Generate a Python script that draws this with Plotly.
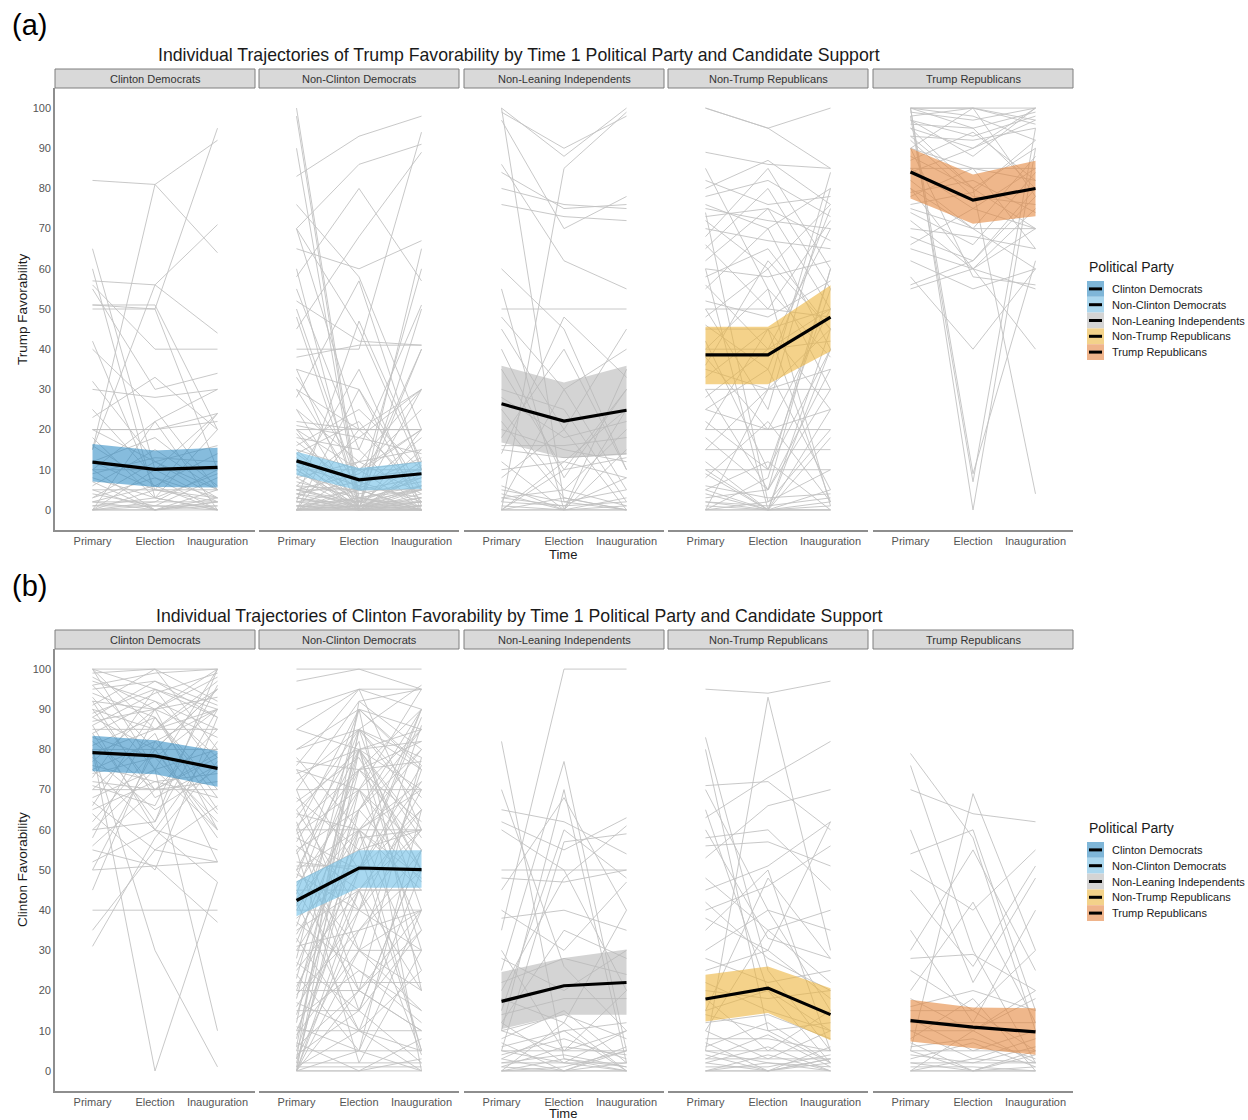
import plotly.graph_objects as go

# ---------------------------------------------------------------- data
times = ["Primary", "Election", "Inauguration"]
groups = ["Clinton Democrats", "Non-Clinton Democrats", "Non-Leaning Independents",
          "Non-Trump Republicans", "Trump Republicans"]
y_ticks = [0, 10, 20, 30, 40, 50, 60, 70, 80, 90, 100]

# group means and confidence bands (Primary, Election, Inauguration)
trump_mean = [[11.9, 10.1, 10.6], [12.2, 7.5, 9.0], [26.4, 22.1, 24.8],
              [38.6, 38.6, 48.0], [84.1, 77.1, 80.0]]
trump_lo = [[7.1, 5.7, 5.6], [8.7, 4.8, 5.2], [16.8, 12.9, 13.7],
            [31.3, 31.3, 39.5], [77.5, 71.2, 73.1]]
trump_hi = [[16.4, 14.8, 15.5], [14.5, 10.4, 12.0], [35.9, 31.7, 35.9],
            [45.6, 45.6, 55.9], [90.0, 83.5, 86.9]]

clinton_mean = [[79.2, 78.4, 75.3], [42.4, 50.5, 50.1], [17.3, 21.2, 22.0],
                [17.9, 20.6, 14.0], [12.5, 10.9, 9.7]]
clinton_lo = [[74.6, 73.8, 70.7], [38.5, 45.6, 45.6], [10.4, 14.0, 14.0],
              [12.3, 14.4, 7.6], [7.3, 5.7, 4.0]]
clinton_hi = [[83.4, 82.3, 79.6], [47.2, 54.9, 54.9], [24.6, 28.1, 30.2],
              [23.9, 26.0, 20.6], [17.7, 15.8, 15.6]]

# individual respondents: Trump favorability
trump_ind_cd = [[82, 81, 64], [15, 81, 92], [51, 50, 95], [65, 10, 2], [60, 3, 0], [51, 51, 20],
                [50, 50, 10], [56, 40, 40], [55, 30, 34], [42, 5, 2], [40, 25, 5], [57, 56, 44],
                [32, 12, 5], [23, 33, 20], [20, 20, 22], [20, 20, 24], [30, 28, 30], [20, 12, 3],
                [15, 56, 71], [10, 22, 30], [12, 5, 24], [10, 10, 10], [8, 3, 20], [6, 15, 5],
                [5, 5, 5], [5, 0, 2], [3, 8, 3], [2, 2, 2], [2, 0, 5], [1, 1, 1], [0, 0, 0],
                [0, 5, 3], [0, 2, 10], [0, 0, 2], [1, 3, 0], [4, 1, 8], [10, 0, 3], [12, 18, 6],
                [16, 6, 14], [25, 8, 0], [3, 12, 16], [0, 10, 24], [7, 0, 1], [18, 3, 9],
                [2, 6, 0], [0, 22, 0], [9, 13, 12], [0, 1, 0]]
trump_ind_ncd = [[100, 3, 0], [98, 1, 5], [90, 0, 2], [83, 93, 98], [70, 86, 91], [76, 58, 20],
                 [70, 20, 5], [70, 45, 10], [65, 60, 67], [60, 0, 65], [58, 80, 57], [55, 15, 51],
                 [52, 42, 41], [50, 5, 0], [48, 2, 30], [45, 68, 89], [40, 40, 94], [38, 41, 41],
                 [35, 0, 20], [35, 30, 5], [33, 10, 0], [30, 20, 20], [30, 5, 40], [28, 57, 10],
                 [25, 12, 15], [25, 0, 0], [22, 20, 20], [21, 18, 30], [20, 20, 20], [20, 0, 5],
                 [20, 10, 12], [19, 2, 8], [18, 15, 0], [17, 5, 18], [16, 25, 10], [15, 1, 2],
                 [15, 10, 25], [14, 3, 6], [13, 0, 11], [12, 8, 10], [12, 2, 40], [11, 6, 3],
                 [10, 10, 10], [10, 1, 15], [10, 0, 0], [9, 4, 7], [8, 12, 4], [8, 0, 9],
                 [7, 3, 5], [6, 0, 1], [6, 18, 14], [5, 5, 5], [5, 1, 0], [5, 9, 20], [5, 2, 12],
                 [4, 0, 6], [4, 7, 2], [3, 1, 3], [3, 0, 0], [3, 12, 30], [2, 2, 2], [2, 0, 10],
                 [2, 5, 0], [1, 1, 1], [1, 0, 4], [1, 3, 0], [0, 0, 0], [0, 0, 1], [0, 1, 0],
                 [0, 2, 5], [0, 0, 2], [0, 5, 8], [0, 0, 3], [0, 10, 20], [0, 3, 1], [0, 1, 6],
                 [1, 0, 0], [0, 20, 30], [0, 30, 0], [2, 47, 12], [6, 5, 60], [3, 0, 50],
                 [8, 35, 1], [11, 0, 0], [14, 22, 2], [0, 6, 13], [4, 2, 0]]
trump_ind_nli = [[100, 88, 100], [99, 90, 98], [100, 2, 0], [97, 70, 78], [86, 62, 55],
                 [84, 75, 76], [80, 76, 75], [76, 73, 72], [0, 85, 99], [60, 45, 10], [55, 0, 35],
                 [50, 50, 50], [48, 30, 5], [45, 20, 45], [40, 8, 30], [35, 10, 30], [30, 25, 2],
                 [28, 18, 22], [25, 5, 20], [22, 3, 0], [20, 15, 12], [18, 40, 10], [16, 16, 18],
                 [15, 13, 14], [12, 0, 25], [10, 12, 8], [8, 20, 0], [5, 2, 5], [4, 0, 3],
                 [3, 5, 1], [2, 1, 2], [1, 0, 0], [0, 0, 1], [0, 3, 0], [0, 10, 13], [0, 12, 25],
                 [6, 0, 15], [14, 48, 33], [2, 30, 40], [0, 0, 0], [3, 1, 8]]
trump_ind_ntr = [[100, 95, 100], [100, 95, 85], [89, 86, 85], [82, 76, 78], [80, 87, 76],
                 [78, 82, 73], [76, 70, 80], [75, 72, 70], [73, 75, 67], [72, 60, 76],
                 [70, 67, 65], [68, 85, 60], [66, 50, 72], [65, 80, 55], [62, 75, 50],
                 [60, 58, 62], [58, 65, 45], [56, 40, 70], [55, 70, 40], [52, 48, 57],
                 [50, 50, 48], [50, 25, 80], [48, 60, 30], [46, 35, 75], [45, 45, 50],
                 [42, 10, 55], [40, 55, 38], [40, 40, 42], [38, 20, 50], [36, 62, 45],
                 [35, 30, 30], [33, 45, 25], [30, 30, 35], [30, 5, 60], [28, 40, 50],
                 [25, 20, 25], [25, 35, 5], [22, 10, 40], [20, 20, 20], [20, 45, 2], [18, 5, 35],
                 [15, 15, 15], [15, 30, 45], [12, 0, 25], [10, 10, 10], [10, 0, 40], [8, 22, 2],
                 [6, 3, 4], [5, 0, 18], [5, 12, 0], [4, 0, 1], [3, 5, 30], [2, 0, 0], [2, 1, 3],
                 [1, 0, 2], [0, 0, 0], [0, 2, 10], [0, 0, 5], [0, 8, 60], [0, 30, 84],
                 [9, 0, 0], [85, 55, 1], [74, 2, 20], [60, 0, 45]]
trump_ind_tr = [[100, 100, 100], [100, 95, 99], [99, 97, 100], [98, 100, 96], [97, 93, 98],
                [96, 95, 80], [95, 90, 97], [93, 92, 95], [90, 85, 65], [88, 80, 90],
                [85, 75, 85], [85, 85, 85], [82, 70, 88], [80, 60, 75], [80, 70, 60],
                [78, 85, 82], [76, 79, 92], [75, 70, 70], [72, 60, 55], [70, 68, 65],
                [68, 62, 80], [66, 75, 70], [62, 55, 60], [58, 40, 60], [56, 62, 78],
                [65, 60, 40], [100, 9, 62], [98, 7, 95], [100, 0, 90], [95, 80, 4],
                [90, 58, 56], [55, 60, 70], [100, 100, 97], [93, 80, 70], [90, 100, 78],
                [97, 88, 100], [84, 90, 100], [92, 78, 76], [87, 94, 82], [79, 82, 74],
                [74, 66, 84], [100, 98, 92]]

# individual respondents: Clinton favorability
clinton_ind_cd = [[100, 100, 100], [100, 95, 90], [100, 85, 97], [99, 100, 92], [98, 90, 100],
                  [97, 92, 85], [96, 80, 95], [95, 97, 88], [94, 88, 70], [93, 75, 100],
                  [92, 90, 93], [91, 100, 80], [90, 85, 90], [90, 70, 85], [89, 95, 75],
                  [88, 80, 60], [87, 90, 98], [86, 60, 82], [85, 85, 85], [84, 92, 78],
                  [83, 78, 90], [82, 70, 72], [81, 88, 65], [80, 80, 80], [80, 0, 47],
                  [80, 30, 1], [79, 85, 95], [78, 65, 75], [77, 90, 83], [76, 72, 68],
                  [75, 82, 90], [75, 60, 55], [74, 78, 62], [73, 95, 88], [72, 70, 78],
                  [71, 66, 96], [70, 70, 70], [70, 84, 52], [68, 75, 80], [67, 55, 66],
                  [66, 90, 60], [65, 72, 74], [64, 50, 88], [62, 80, 58], [60, 62, 90],
                  [60, 75, 10], [58, 88, 68], [56, 70, 79], [55, 51, 52], [52, 60, 47],
                  [50, 51, 37], [50, 80, 95], [40, 40, 40], [35, 55, 52], [31, 58, 77],
                  [45, 82, 64], [100, 75, 60], [96, 99, 100], [88, 97, 91], [84, 62, 100],
                  [92, 68, 76], [86, 94, 99]]
clinton_ind_ncd = [[100, 100, 100], [97, 100, 95], [90, 95, 95], [85, 95, 90], [85, 80, 70],
                   [80, 90, 85], [80, 85, 75], [78, 60, 80], [77, 75, 90], [76, 95, 60],
                   [75, 70, 85], [75, 50, 76], [74, 80, 30], [72, 85, 65], [70, 30, 75],
                   [70, 92, 80], [70, 70, 70], [68, 55, 90], [67, 78, 50], [65, 80, 85],
                   [65, 40, 60], [64, 60, 70], [63, 85, 40], [62, 20, 10], [61, 75, 77],
                   [60, 60, 60], [60, 90, 20], [60, 15, 55], [59, 70, 95], [58, 50, 65],
                   [57, 82, 0], [56, 45, 45], [55, 65, 80], [55, 2, 30], [54, 75, 55],
                   [52, 50, 50], [51, 51, 50], [50, 80, 82], [50, 30, 40], [50, 60, 5],
                   [49, 40, 70], [48, 90, 75], [47, 55, 60], [46, 70, 35], [45, 45, 45],
                   [45, 20, 78], [44, 85, 68], [43, 60, 25], [42, 10, 50], [41, 75, 62],
                   [40, 40, 40], [40, 65, 85], [38, 50, 90], [37, 25, 15], [36, 80, 50],
                   [35, 45, 60], [34, 60, 72], [33, 10, 0], [32, 70, 55], [31, 35, 40],
                   [30, 30, 30], [30, 55, 5], [28, 90, 76], [27, 15, 35], [26, 65, 47],
                   [25, 45, 20], [24, 5, 65], [23, 80, 58], [22, 22, 22], [21, 50, 88],
                   [20, 20, 10], [20, 60, 45], [19, 35, 50], [18, 75, 82], [17, 10, 5],
                   [16, 40, 30], [15, 15, 55], [14, 58, 60], [13, 25, 12], [12, 85, 78],
                   [11, 5, 40], [10, 10, 10], [10, 45, 65], [9, 30, 20], [8, 70, 50],
                   [7, 0, 8], [6, 20, 35], [5, 5, 5], [5, 50, 72], [4, 15, 2], [3, 35, 55],
                   [2, 2, 2], [2, 60, 48], [1, 10, 25], [1, 1, 1], [0, 0, 0], [0, 30, 15],
                   [0, 80, 60], [0, 45, 4], [0, 5, 0], [0, 20, 40], [0, 0, 3], [1, 65, 90],
                   [3, 92, 95], [0, 40, 86], [6, 85, 96]]
clinton_ind_nli = [[35, 100, 100], [82, 3, 0], [25, 77, 5], [10, 70, 2], [15, 60, 48],
                   [65, 62, 54], [62, 55, 63], [50, 50, 50], [48, 47, 50], [38, 40, 35],
                   [20, 48, 61], [5, 57, 59], [40, 30, 47], [30, 5, 20], [70, 26, 10],
                   [22, 28, 24], [18, 12, 40], [28, 20, 30], [14, 18, 18], [12, 2, 10],
                   [10, 14, 8], [10, 5, 10], [8, 15, 2], [7, 0, 5], [6, 10, 12], [5, 5, 5],
                   [5, 2, 0], [4, 8, 3], [3, 0, 6], [3, 10, 0], [2, 2, 2], [2, 4, 1], [1, 0, 0],
                   [1, 6, 4], [0, 0, 0], [0, 3, 1], [0, 1, 5], [0, 12, 0], [0, 0, 2],
                   [45, 68, 40], [60, 50, 20], [12, 35, 28]]
clinton_ind_ntr = [[95, 94, 97], [5, 93, 30], [83, 25, 5], [71, 72, 60], [63, 73, 82],
                   [53, 66, 70], [56, 57, 51], [45, 51, 62], [40, 46, 56], [65, 20, 10],
                   [70, 40, 15], [80, 10, 2], [60, 33, 28], [48, 35, 40], [42, 28, 20],
                   [35, 50, 5], [30, 40, 35], [28, 22, 25], [25, 30, 18], [22, 15, 10],
                   [20, 18, 20], [18, 5, 15], [15, 20, 2], [14, 10, 12], [12, 14, 8],
                   [10, 3, 10], [8, 8, 5], [7, 0, 3], [6, 12, 2], [5, 5, 5], [5, 2, 0],
                   [4, 0, 6], [3, 9, 1], [3, 3, 3], [2, 0, 2], [2, 6, 0], [1, 1, 4], [0, 0, 0],
                   [0, 2, 1], [0, 4, 0], [0, 0, 3], [58, 60, 45], [38, 30, 62], [15, 48, 28],
                   [10, 35, 22]]
clinton_ind_tr = [[79, 58, 10], [76, 30, 2], [5, 69, 30], [54, 60, 15], [60, 22, 48],
                  [70, 64, 62], [50, 40, 55], [45, 26, 51], [28, 29, 20], [25, 15, 30],
                  [20, 42, 12], [18, 10, 18], [16, 20, 15], [15, 15, 5], [13, 5, 10],
                  [12, 12, 12], [10, 3, 8], [10, 10, 2], [8, 18, 0], [7, 0, 5], [6, 8, 3],
                  [5, 5, 5], [5, 0, 0], [4, 2, 6], [3, 7, 1], [2, 2, 2], [2, 0, 4], [1, 1, 0],
                  [0, 0, 0], [0, 3, 2], [0, 0, 1], [0, 10, 20], [30, 55, 25], [35, 12, 40]]

trump_ind = [trump_ind_cd, trump_ind_ncd, trump_ind_nli, trump_ind_ntr, trump_ind_tr]
clinton_ind = [clinton_ind_cd, clinton_ind_ncd, clinton_ind_nli, clinton_ind_ntr, clinton_ind_tr]

# ---------------------------------------------------------------- styling
W, H = 1248, 1120
FONT = "Liberation Sans, Arial, sans-serif"
band_colors = ["rgba(47,140,197,0.58)", "rgba(110,190,230,0.6)", "rgba(183,183,183,0.6)",
               "rgba(236,180,60,0.6)", "rgba(228,135,62,0.6)"]
key_colors = ["#7FB6D8", "#ABD7EE", "#D4D4D4", "#F3D28A", "#EFB48B"]
panel_x = [(55, 255), (259, 459), (464, 664), (668, 868), (873, 1073)]
AXIS_GREY = "#8E8E8E"
TICK_GREY = "#555555"


def px_x(v):
    return v / W


def px_y(v):
    return 1 - v / H


sections = [
    dict(tag="(a)", tag_y=25, title="Individual Trajectories of Trump Favorability by Time 1 "
         "Political Party and Candidate Support", title_y=55, strip=(69, 88), plot=(88, 530),
         ylabel="Trump Favorability", time_y=554, legend_y=267,
         ind=trump_ind, mean=trump_mean, lo=trump_lo, hi=trump_hi),
    dict(tag="(b)", tag_y=586, title="Individual Trajectories of Clinton Favorability by Time 1 "
         "Political Party and Candidate Support", title_y=616, strip=(630, 649), plot=(649, 1091),
         ylabel="Clinton Favorability", time_y=1113, legend_y=828,
         ind=clinton_ind, mean=clinton_mean, lo=clinton_lo, hi=clinton_hi),
]

fig = go.Figure()
layout = dict(width=W, height=H, margin=dict(l=0, r=0, t=0, b=0),
              paper_bgcolor="white", plot_bgcolor="white", showlegend=False,
              font=dict(family=FONT, color="#1A1A1A"))
shapes, annotations = [], []

for r, sec in enumerate(sections):
    top, bottom = sec["plot"]
    for k in range(5):
        idx = r * 5 + k + 1
        sfx = "" if idx == 1 else str(idx)
        xref, yref = "x" + sfx, "y" + sfx
        x0, x1 = panel_x[k]

        # individual trajectories, one trace per panel
        xs, ys = [], []
        for traj in sec["ind"][k]:
            xs += [1, 2, 3, None]
            ys += list(traj) + [None]
        fig.add_trace(go.Scatter(x=xs, y=ys, mode="lines", xaxis=xref, yaxis=yref,
                                 line=dict(color="rgb(194,194,194)", width=0.9),
                                 hoverinfo="skip", connectgaps=False))
        # confidence band
        lo, hi = sec["lo"][k], sec["hi"][k]
        fig.add_trace(go.Scatter(x=[1, 2, 3, 3, 2, 1], y=lo + hi[::-1], mode="lines",
                                 fill="toself", fillcolor=band_colors[k],
                                 line=dict(width=0), xaxis=xref, yaxis=yref, hoverinfo="skip"))
        # group mean
        fig.add_trace(go.Scatter(x=[1, 2, 3], y=sec["mean"][k], mode="lines",
                                 line=dict(color="black", width=3.2),
                                 xaxis=xref, yaxis=yref, name=groups[k]))

        layout["xaxis" + sfx] = dict(
            domain=[px_x(x0), px_x(x1)], range=[0.4, 3.6], anchor=yref,
            tickmode="array", tickvals=[1, 2, 3], ticktext=times, ticks="",
            tickfont=dict(size=11, color=TICK_GREY, family=FONT),
            showline=True, linecolor=AXIS_GREY, linewidth=1.6,
            showgrid=False, zeroline=False, fixedrange=True)
        layout["yaxis" + sfx] = dict(
            domain=[px_y(bottom), px_y(top)], range=[-5, 105], anchor=xref,
            tickmode="array", tickvals=y_ticks, ticks="",
            showticklabels=(k == 0), tickfont=dict(size=11, color=TICK_GREY, family=FONT),
            showline=(k == 0), linecolor=AXIS_GREY, linewidth=1.6,
            showgrid=False, zeroline=False, fixedrange=True)

        # facet strip
        s0, s1 = sec["strip"]
        shapes.append(dict(type="rect", xref="paper", yref="paper",
                           x0=px_x(x0), x1=px_x(x1), y0=px_y(s1), y1=px_y(s0),
                           fillcolor="#D9D9D9", line=dict(color="#7F7F7F", width=1)))
        annotations.append(dict(x=px_x((x0 + x1) / 2), y=px_y((s0 + s1) / 2),
                                xref="paper", yref="paper", text=groups[k], showarrow=False,
                                xanchor="center", yanchor="middle",
                                font=dict(size=11, color="#333333", family=FONT)))

    # section tag, title, axis titles
    annotations.append(dict(x=px_x(10), y=px_y(sec["tag_y"]), xref="paper", yref="paper",
                            text=sec["tag"], showarrow=False, xanchor="left", yanchor="middle",
                            font=dict(size=29, color="black", family=FONT)))
    annotations.append(dict(x=px_x(519), y=px_y(sec["title_y"]), xref="paper", yref="paper",
                            text=sec["title"], showarrow=False, xanchor="center",
                            yanchor="middle", font=dict(size=17.7, color="#1A1A1A", family=FONT)))
    annotations.append(dict(x=px_x(22), y=px_y((top + bottom) / 2), xref="paper", yref="paper",
                            text=sec["ylabel"], showarrow=False, textangle=-90,
                            xanchor="center", yanchor="middle",
                            font=dict(size=13.5, color="#1A1A1A", family=FONT)))
    annotations.append(dict(x=px_x(563), y=px_y(sec["time_y"]), xref="paper", yref="paper",
                            text="Time", showarrow=False, xanchor="center", yanchor="middle",
                            borderpad=0,
                            font=dict(size=13, color="#1A1A1A", family=FONT)))

    # legend
    ly = sec["legend_y"]
    annotations.append(dict(x=px_x(1087), y=px_y(ly), xref="paper", yref="paper",
                            text="Political Party", showarrow=False, xanchor="left",
                            yanchor="middle", font=dict(size=14, color="#1A1A1A", family=FONT)))
    for k in range(5):
        ky0 = ly + 14 + 15.8 * k
        ky1 = ky0 + 15.8
        kc = (ky0 + ky1) / 2
        shapes.append(dict(type="rect", xref="paper", yref="paper",
                           x0=px_x(1087), x1=px_x(1104), y0=px_y(ky1), y1=px_y(ky0),
                           fillcolor=key_colors[k], line=dict(width=0)))
        shapes.append(dict(type="line", xref="paper", yref="paper",
                           x0=px_x(1089), x1=px_x(1102), y0=px_y(kc), y1=px_y(kc),
                           line=dict(color="black", width=3)))
        annotations.append(dict(x=px_x(1110), y=px_y(kc), xref="paper", yref="paper",
                                text=groups[k], showarrow=False, xanchor="left",
                                yanchor="middle",
                                font=dict(size=11, color="#1A1A1A", family=FONT)))

layout["shapes"] = shapes
layout["annotations"] = annotations
fig.update_layout(**layout)
fig.write_html("out.html")
